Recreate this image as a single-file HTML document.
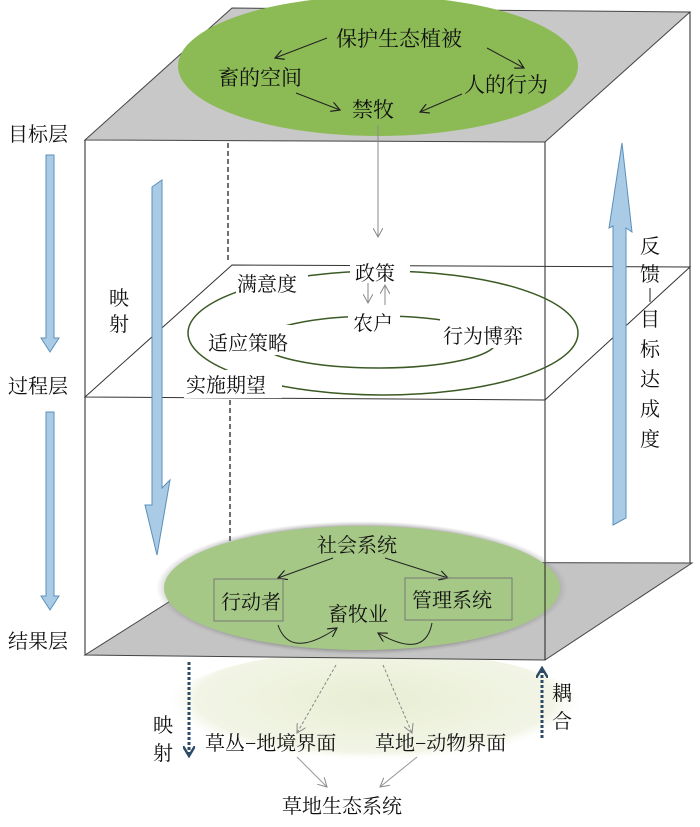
<!DOCTYPE html>
<html><head><meta charset="utf-8"><style>
html,body{margin:0;padding:0;background:#fff;}
svg{display:block;}
text{font-family:"Liberation Serif","Noto Serif CJK SC","Noto Sans CJK SC",serif;fill:#111;}
</style></head><body>
<svg width="700" height="827" viewBox="0 0 700 827" xmlns="http://www.w3.org/2000/svg">
<defs>
<radialGradient id="shadow" cx="50%" cy="50%" r="50%">
<stop offset="86%" stop-color="#333" stop-opacity="0.9"/>
<stop offset="100%" stop-color="#999" stop-opacity="0"/>
</radialGradient>
<radialGradient id="pale" cx="50%" cy="40%" r="50%">
<stop offset="0%" stop-color="#e8eed4"/>
<stop offset="85%" stop-color="#f2f5e6"/>
<stop offset="100%" stop-color="#fff" stop-opacity="0"/>
</radialGradient>
<marker id="ah" markerWidth="10" markerHeight="10" refX="9" refY="5" orient="auto" markerUnits="userSpaceOnUse"><path d="M0,0 L9,5 L0,10" fill="none" stroke="#222" stroke-width="1.2"/></marker>
<marker id="ahg" markerWidth="10" markerHeight="10" refX="9" refY="5" orient="auto" markerUnits="userSpaceOnUse"><path d="M0,0 L9,5 L0,10" fill="none" stroke="#888" stroke-width="1"/></marker>
<marker id="ahb" markerWidth="12" markerHeight="12" refX="10" refY="6" orient="auto" markerUnits="userSpaceOnUse"><path d="M0,0 L10,6 L0,12" fill="none" stroke="#2d4a66" stroke-width="2.5"/></marker>
</defs>

<ellipse cx="375" cy="712" rx="212" ry="62" fill="url(#pale)"/>

<polygon points="232,8 690,12 545,142 85,140" fill="#c8c8c8" stroke="#444" stroke-width="1"/>
<ellipse cx="378" cy="66" rx="200" ry="70" fill="#8cbb55"/>

<line x1="85" y1="140" x2="85" y2="655" stroke="#222" stroke-width="1"/>
<line x1="545" y1="142" x2="545" y2="660" stroke="#222" stroke-width="1"/>
<line x1="690" y1="12" x2="690" y2="563" stroke="#222" stroke-width="1"/>
<line x1="228" y1="143" x2="228" y2="262" stroke="#222" stroke-width="1.3" stroke-dasharray="5,3"/>
<line x1="230" y1="400" x2="230" y2="560" stroke="#222" stroke-width="1.3" stroke-dasharray="5,3"/>

<polygon points="232,265 690,267 545,400 85,397" fill="none" stroke="#333" stroke-width="1"/>

<polygon points="232,562 692,563 545,660 85,655" fill="#c4c4c4" stroke="#444" stroke-width="1"/>
<ellipse cx="362" cy="588" rx="206" ry="67" fill="url(#shadow)"/>
<ellipse cx="362" cy="588" rx="198" ry="62" fill="#a6c886"/>
<line x1="545" y1="563" x2="545" y2="660" stroke="#222" stroke-width="1"/>

<polygon points="46,155 54,155 54,338 59,338 50,352 41,338 46,338" fill="#a9cbe6" stroke="#5b8fb9" stroke-width="1"/>
<polygon points="46,412 54,412 54,596 59,596 50,610 41,596 46,596" fill="#a9cbe6" stroke="#5b8fb9" stroke-width="1"/>
<polygon points="152,187 162,180 162,488 170,480 157,555 145,505 152,505" fill="#a9cbe6" stroke="#5b8fb9" stroke-width="1"/>
<polygon points="613,525 626,518 626,228 632,232 622,143 609,228 613,226" fill="#a9cbe6" stroke="#5b8fb9" stroke-width="1"/>

<text x="336" y="46" font-size="21">保护生态植被</text>
<text x="218" y="85" font-size="21">畜的空间</text>
<text x="464" y="92" font-size="21">人的行为</text>
<text x="352" y="117" font-size="21">禁牧</text>
<line x1="327" y1="38" x2="275" y2="58" stroke="#222" marker-end="url(#ah)"/>
<line x1="487" y1="48" x2="524" y2="68" stroke="#222" marker-end="url(#ah)"/>
<line x1="296" y1="93" x2="340" y2="110" stroke="#222" marker-end="url(#ah)"/>
<line x1="462" y1="94" x2="420" y2="112" stroke="#222" marker-end="url(#ah)"/>
<line x1="378" y1="125" x2="378" y2="237" stroke="#888" marker-end="url(#ahg)"/>

<ellipse cx="383" cy="333" rx="195" ry="62" fill="none" stroke="#3b5a25" stroke-width="1.5"/>
<ellipse cx="378" cy="342" rx="118" ry="26" fill="none" stroke="#3b5a25" stroke-width="1.5"/>
<rect x="350" y="258" width="60" height="26" fill="#fff"/>
<rect x="236" y="268" width="72" height="28" fill="#fff"/>
<rect x="348" y="310" width="52" height="26" fill="#fff"/>
<rect x="206" y="325" width="100" height="30" fill="#fff"/>
<rect x="440" y="318" width="100" height="30" fill="#fff"/>
<rect x="184" y="370" width="98" height="28" fill="#fff"/>
<text x="355" y="280" font-size="20">政策</text>
<text x="237" y="291" font-size="20">满意度</text>
<text x="353" y="330" font-size="20">农户</text>
<text x="208" y="350" font-size="20">适应策略</text>
<text x="443" y="343" font-size="20">行为博弈</text>
<text x="186" y="392" font-size="20">实施期望</text>
<line x1="368" y1="283" x2="368" y2="303" stroke="#888" marker-end="url(#ahg)"/>
<line x1="385" y1="305" x2="385" y2="285" stroke="#888" marker-end="url(#ahg)"/>

<text x="317" y="552" font-size="20">社会系统</text>
<line x1="333" y1="558" x2="278" y2="578" stroke="#222" marker-end="url(#ah)"/>
<line x1="385" y1="558" x2="448" y2="578" stroke="#222" marker-end="url(#ah)"/>
<rect x="214" y="579" width="69" height="42" fill="none" stroke="#777" stroke-width="1"/>
<rect x="405" y="578" width="107" height="42" fill="none" stroke="#777" stroke-width="1"/>
<text x="221" y="609" font-size="20">行动者</text>
<text x="412" y="607" font-size="20">管理系统</text>
<text x="328" y="621" font-size="20">畜牧业</text>
<path d="M278,625 Q290,660 337,628" fill="none" stroke="#222" marker-end="url(#ah)"/>
<path d="M432,623 Q425,660 378,633" fill="none" stroke="#222" marker-end="url(#ah)"/>

<line x1="336" y1="665" x2="297" y2="733" stroke="#888" stroke-dasharray="3,2" marker-end="url(#ahg)"/>
<line x1="383" y1="665" x2="412" y2="733" stroke="#888" stroke-dasharray="3,2" marker-end="url(#ahg)"/>
<line x1="297" y1="757" x2="327" y2="787" stroke="#999" marker-end="url(#ahg)"/>
<line x1="417" y1="757" x2="380" y2="787" stroke="#999" marker-end="url(#ahg)"/>
<line x1="189" y1="662" x2="189" y2="756" stroke="#2d4a66" stroke-width="3" stroke-dasharray="3,2" marker-end="url(#ahb)"/>
<line x1="542" y1="738" x2="542" y2="668" stroke="#2d4a66" stroke-width="3" stroke-dasharray="3,2" marker-end="url(#ahb)"/>
<text x="205" y="750" font-size="20">草丛−地境界面</text>
<text x="375" y="750" font-size="20">草地−动物界面</text>
<text x="282" y="813" font-size="20">草地生态系统</text>
<text x="153" y="732" font-size="20">映</text>
<text x="153" y="760" font-size="20">射</text>
<text x="552" y="700" font-size="20">耦</text>
<text x="552" y="728" font-size="20">合</text>

<text x="8" y="141" font-size="20">目标层</text>
<text x="8" y="393" font-size="20">过程层</text>
<text x="8" y="648" font-size="20">结果层</text>
<text x="109" y="305" font-size="20">映</text>
<text x="109" y="331" font-size="20">射</text>
<g font-size="20">
<text x="640" y="253">反</text>
<text x="640" y="281">馈</text>
<line x1="650" y1="288" x2="650" y2="302" stroke="#222"/>
<text x="640" y="326">目</text>
<text x="640" y="356">标</text>
<text x="640" y="386">达</text>
<text x="640" y="416">成</text>
<text x="640" y="446">度</text>
</g>
</svg>
</body></html>
